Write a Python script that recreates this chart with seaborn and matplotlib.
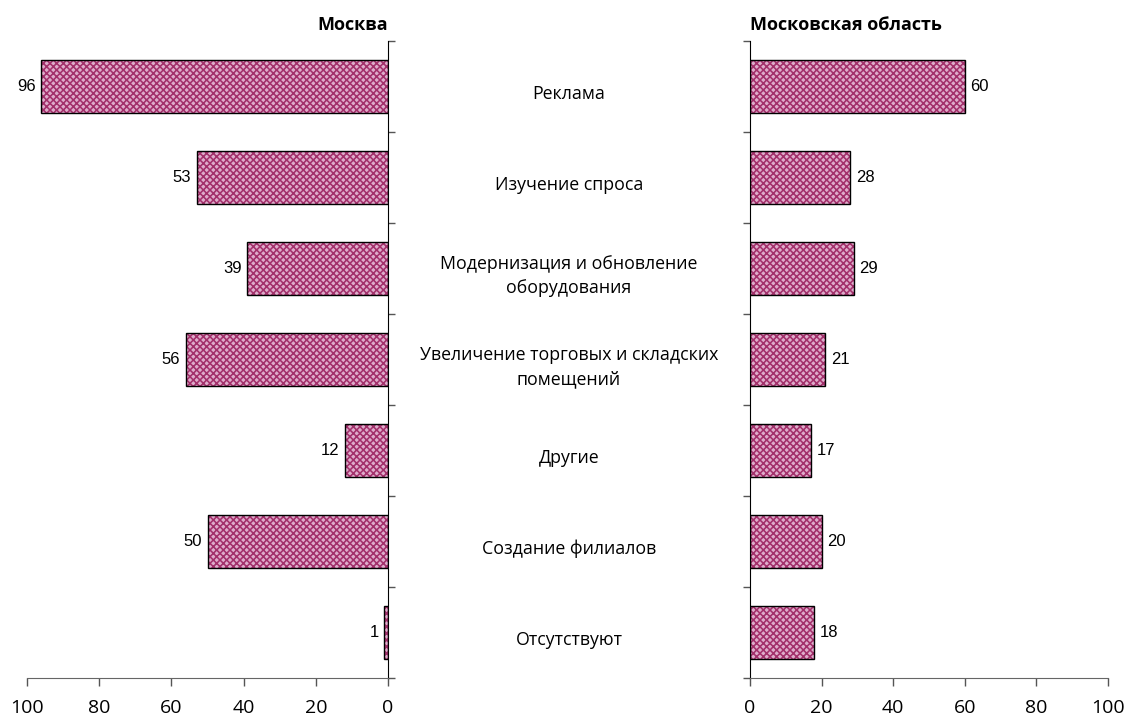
import matplotlib
matplotlib.use("Agg")
import matplotlib.pyplot as plt
import matplotlib.transforms as mtransforms
import pandas as pd
import seaborn as sns

categories = [
    "Реклама",
    "Изучение спроса",
    "Модернизация и обновление\nоборудования",
    "Увеличение торговых и складских\nпомещений",
    "Другие",
    "Создание филиалов",
    "Отсутствуют",
]
moscow = [96, 53, 39, 56, 12, 50, 1]
oblast = [60, 28, 29, 21, 17, 20, 18]
titles = ["Москва", "Московская область"]
xticks = [0, 20, 40, 60, 80, 100]

sns.set_style("white")
plt.rcParams["font.family"] = ["Open Sans", "DejaVu Sans"]
plt.rcParams["hatch.linewidth"] = 1.15
plt.rcParams["text.color"] = "black"
plt.rcParams["xtick.labelcolor"] = "black"
plt.rcParams["axes.titlecolor"] = "black"

data = pd.DataFrame({"cat": categories, "moscow": moscow, "oblast": oblast})

fig = plt.figure(figsize=(11.32, 7.2), dpi=100)
ax_l = fig.add_axes([27 / 1132, 42 / 720, 361 / 1132, 637 / 720])
ax_r = fig.add_axes([750 / 1132, 42 / 720, 358 / 1132, 637 / 720])

fill = "#dfaccb"
hatch_col = "#a3306b"
num_font = ["Liberation Sans Narrow", "Liberation Sans", "DejaVu Sans"]

for ax, col in [(ax_l, "moscow"), (ax_r, "oblast")]:
    sns.barplot(data=data, y="cat", x=col, orient="h", ax=ax, width=0.58,
                color=fill, edgecolor=hatch_col, linewidth=0, hatch="xxxxx",
                saturation=1)
    sns.barplot(data=data, y="cat", x=col, orient="h", ax=ax, width=0.58,
                fill=False, edgecolor="black", linewidth=1.0)
    ax.set_xlim(0, 100)
    ax.set_ylim(6.5, -0.5)
    ax.set_xticks(xticks)
    ax.set_yticks([i - 0.5 for i in range(len(categories) + 1)])
    ax.set_yticklabels([])
    ax.set_xlabel("")
    ax.set_ylabel("")
    ax.tick_params(axis="x", direction="out", length=6, width=1, color="#555555",
                   labelsize=14, pad=9, bottom=True)
    ax.tick_params(axis="y", direction="out", length=5, width=1, color="#555555")
    ax.spines["top"].set_visible(False)
    ax.spines["bottom"].set_color("#666666")

ax_l.invert_xaxis()
ax_l.spines["left"].set_visible(False)
ax_l.yaxis.tick_right()
ax_l.spines["right"].set_color("black")
ax_r.spines["right"].set_visible(False)
ax_r.spines["left"].set_color("black")
ax_r.yaxis.tick_left()

# value labels outside bar ends
for i, v in enumerate(moscow):
    ax_l.annotate(str(v), (v, i), xytext=(-4, 0), textcoords="offset points",
                  ha="right", va="center", fontsize=12, family=num_font)
for i, v in enumerate(oblast):
    ax_r.annotate(str(v), (v, i), xytext=(4, 0), textcoords="offset points",
                  ha="left", va="center", fontsize=12, family=num_font)

ax_l.set_title(titles[0], loc="right", fontsize=13, fontweight="bold", pad=8)
ax_r.set_title(titles[1], loc="left", fontsize=13, fontweight="bold", pad=8)

trans = mtransforms.blended_transform_factory(fig.transFigure, ax_l.transData)
for i, name in enumerate(categories):
    fig.text(569 / 1132, i + 0.08, name, transform=trans, ha="center", va="center",
             fontsize=12.8, linespacing=1.45)

fig.savefig("out.png", dpi=100)
